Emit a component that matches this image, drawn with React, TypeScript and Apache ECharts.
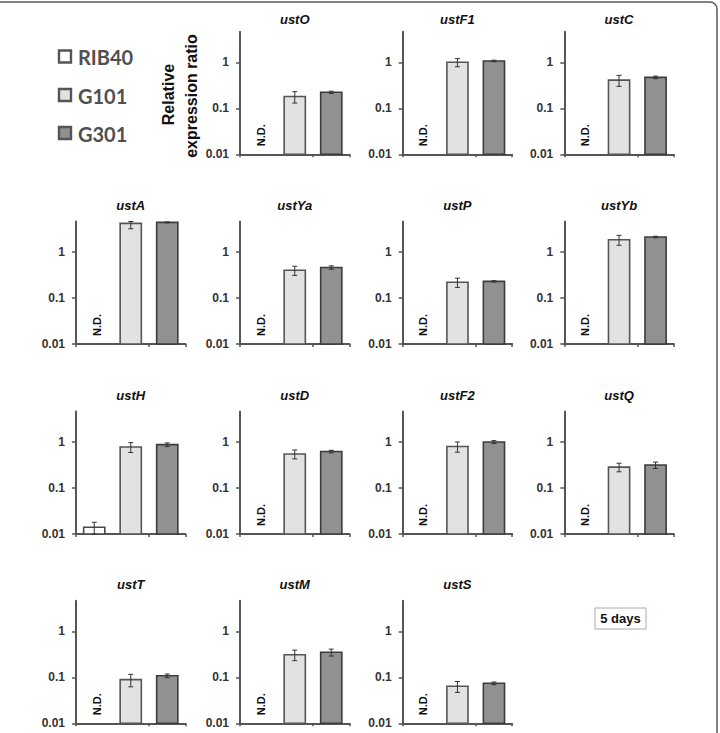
import React, { useEffect, useRef } from 'react';
import * as echarts from 'echarts';

// Strains compared in every panel
const strains = ['RIB40', 'G101', 'G301'];

// Genes of the ust cluster, in reading order
const genes = ['ustO', 'ustF1', 'ustC', 'ustA', 'ustYa', 'ustP', 'ustYb', 'ustH', 'ustD', 'ustF2', 'ustQ', 'ustT', 'ustM', 'ustS'];

// Relative expression ratio (mean) and error per strain; null = not detected
const rib40Mean = [null, null, null, null, null, null, null, 0.014, null, null, null, null, null, null];
const rib40Err = [null, null, null, null, null, null, null, 0.004, null, null, null, null, null, null];
const g101Mean = [0.18, 1.0, 0.41, 4.2, 0.4, 0.22, 1.85, 0.78, 0.55, 0.8, 0.285, 0.089, 0.31, 0.064];
const g101Err = [0.05, 0.2, 0.11, 1.0, 0.09, 0.05, 0.45, 0.19, 0.12, 0.2, 0.06, 0.027, 0.08, 0.017];
const g301Mean = [0.223, 1.07, 0.47, 4.4, 0.46, 0.23, 2.12, 0.875, 0.62, 1.0, 0.316, 0.108, 0.35, 0.074];
const g301Err = [0.012, 0.04, 0.03, 0.1, 0.04, 0.008, 0.08, 0.08, 0.04, 0.07, 0.05, 0.01, 0.06, 0.005];

// Log axis tick labels
const yTicks = [0.01, 0.1, 1];

// Panel placement: [row, column] for each gene
const panelCells: [number, number][] = [
  [0, 1], [0, 2], [0, 3],
  [1, 0], [1, 1], [1, 2], [1, 3],
  [2, 0], [2, 1], [2, 2], [2, 3],
  [3, 0], [3, 1], [3, 2],
];

const Y_MIN = 0.01;
const Y_MAX = 4.6;
const DECADE_PX = 46;
const COL_X = [76, 240, 402.7, 564.3];
const ROW_BOTTOM = [154.3, 344, 534, 723.3];
const TITLE_Y = [19, 205, 395, 584];
const GRID_W = 109.5;

const FILLS = ['#ffffff', '#e2e2e2', '#919191'];
const STROKES = ['#4a4a4a', '#555555', '#3c3c3c'];
const AXIS_COLOR = '#555555';

export default function App() {
  const ref = useRef<HTMLDivElement>(null);

  useEffect(() => {
    if (!ref.current) return;
    const chart = echarts.init(ref.current, null, { renderer: 'svg' });
    const gridH = DECADE_PX * Math.log10(Y_MAX / Y_MIN);

    const means = [rib40Mean, g101Mean, g301Mean];
    const errs = [rib40Err, g101Err, g301Err];

    const grids: any[] = [];
    const xAxes: any[] = [];
    const yAxes: any[] = [];
    const series: any[] = [];
    const graphics: any[] = [];

    genes.forEach((gene, i) => {
      const [r, c] = panelCells[i];
      const left = COL_X[c];
      const top = ROW_BOTTOM[r] - gridH;
      grids.push({ left, top, width: GRID_W, height: gridH, outerBoundsMode: 'none', containLabel: false });
      xAxes.push({
        type: 'category',
        gridIndex: i,
        data: strains,
        boundaryGap: true,
        axisLine: { show: true, onZero: false, lineStyle: { color: AXIS_COLOR, width: 2 } },
        axisTick: { show: true, length: 3, lineStyle: { color: AXIS_COLOR, width: 1.5 } },
        axisLabel: { show: false },
        splitLine: { show: false },
      });
      yAxes.push({
        type: 'log',
        logBase: 10,
        gridIndex: i,
        min: Y_MIN,
        max: Y_MAX,
        axisLine: { show: true, lineStyle: { color: AXIS_COLOR, width: 2 } },
        axisTick: { show: true, length: 4, customValues: yTicks, lineStyle: { color: AXIS_COLOR, width: 1.5 } },
        axisLabel: {
          customValues: yTicks,
          formatter: (v: number) => String(Number(v.toPrecision(3))),
          fontFamily: 'Liberation Sans',
          fontWeight: 'bold',
          fontSize: 12,
          color: '#333333',
          margin: 11,
        },
        splitLine: { show: false },
      });

      const data = strains.map((_, k) => {
        const m = means[k][i];
        const e = errs[k][i];
        return m === null ? [k, Y_MIN, 0, 1] : [k, m, e ?? 0, 0];
      });

      series.push({
        type: 'custom',
        name: gene,
        xAxisIndex: i,
        yAxisIndex: i,
        data,
        renderItem: (params: any, api: any) => {
          const k = api.value(0);
          const v = api.value(1);
          const e = api.value(2);
          const nd = api.value(3);
          const base = api.coord([k, Y_MIN]);
          const band = api.size([1, 0])[0];
          if (nd) {
            return {
              type: 'text',
              x: base[0] + 2.5,
              y: base[1] - 19,
              rotation: Math.PI / 2,
              style: {
                text: 'N.D.',
                font: 'bold 11px "Liberation Sans"',
                fill: '#111111',
                align: 'center',
                verticalAlign: 'middle',
                textAlign: 'center',
                textVerticalAlign: 'middle',
              },
            };
          }
          const topPt = api.coord([k, v]);
          const bw = band * 0.58;
          const hi = api.coord([k, Math.min(v + e, Y_MAX)]);
          const lo = api.coord([k, Math.max(v - e, Y_MIN)]);
          const cap = 2.5;
          const errStyle = { stroke: '#333333', lineWidth: 1 };
          return {
            type: 'group',
            children: [
              {
                type: 'rect',
                shape: { x: topPt[0] - bw / 2, y: topPt[1], width: bw, height: base[1] - topPt[1] },
                style: { fill: FILLS[k], stroke: STROKES[k], lineWidth: 1.6 },
              },
              { type: 'line', shape: { x1: hi[0], y1: hi[1], x2: lo[0], y2: lo[1] }, style: errStyle },
              { type: 'line', shape: { x1: hi[0] - cap, y1: hi[1], x2: hi[0] + cap, y2: hi[1] }, style: errStyle },
              { type: 'line', shape: { x1: lo[0] - cap, y1: lo[1], x2: lo[0] + cap, y2: lo[1] }, style: errStyle },
            ],
          };
        },
      });

      graphics.push({
        type: 'text',
        x: left + GRID_W / 2,
        y: TITLE_Y[r],
        style: {
          text: gene,
          font: 'italic bold 13px "Liberation Sans"',
          fill: '#111111',
          align: 'center',
          verticalAlign: 'middle',
          textAlign: 'center',
          textVerticalAlign: 'middle',
        },
      });
    });

    // Outer frame
    graphics.push({
      type: 'rect',
      shape: { x: -20, y: 2, width: 737, height: 800, r: 7 },
      style: { fill: 'none', stroke: '#5a5a5a', lineWidth: 1.5 },
      silent: true,
    });

    // Strain key
    const keyY = [56.5, 95, 133];
    strains.forEach((s, k) => {
      graphics.push({
        type: 'rect',
        shape: { x: 59, y: keyY[k] - 6, width: 12, height: 12 },
        style: { fill: FILLS[k], stroke: '#555555', lineWidth: 2.4 },
      });
      graphics.push({
        type: 'text',
        x: 78,
        y: keyY[k] + 0.5,
        style: {
          text: s,
          font: 'bold 20px Lato',
          fill: '#505050',
          align: 'left',
          verticalAlign: 'middle',
          textAlign: 'left',
          textVerticalAlign: 'middle',
        },
      });
    });

    // Shared y-axis title
    const titleLines: [string, number, number][] = [
      ['Relative', 168.5, 94.5],
      ['expression ratio', 191.5, 96],
    ];
    titleLines.forEach(([t, x, y]) => {
      graphics.push({
        type: 'text',
        x,
        y,
        rotation: Math.PI / 2,
        style: {
          text: t,
          font: 'bold 16px "Liberation Sans"',
          fill: '#111111',
          align: 'center',
          verticalAlign: 'middle',
          textAlign: 'center',
          textVerticalAlign: 'middle',
        },
      });
    });

    // Time point box
    graphics.push({
      type: 'rect',
      shape: { x: 595, y: 608, width: 51, height: 21 },
      style: { fill: '#ffffff', stroke: '#aaaaaa', lineWidth: 1 },
    });
    graphics.push({
      type: 'text',
      x: 620.5,
      y: 618.5,
      style: {
        text: '5 days',
        font: 'bold 13px "Liberation Sans"',
        fill: '#111111',
        align: 'center',
        verticalAlign: 'middle',
        textAlign: 'center',
        textVerticalAlign: 'middle',
      },
    });

    chart.setOption({
      animation: false,
      backgroundColor: '#ffffff',
      grid: grids,
      xAxis: xAxes,
      yAxis: yAxes,
      series,
      graphic: { elements: graphics },
    });

    return () => chart.dispose();
  }, []);

  return (
    <div
      ref={ref}
      style={{ position: 'absolute', left: 0, top: 0, width: 720, height: 733 }}
    />
  );
}
